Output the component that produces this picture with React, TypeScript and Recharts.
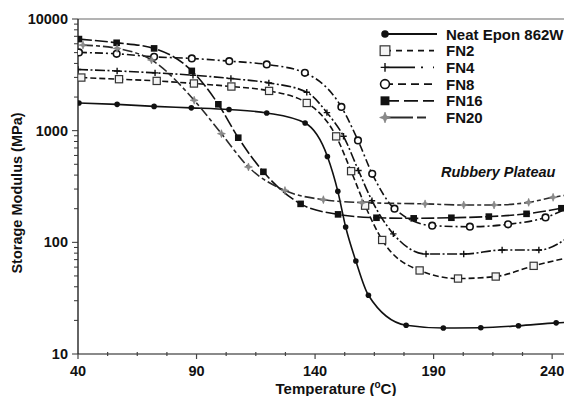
import React from "react";
import { LineChart, Line, XAxis, YAxis, Legend, ReferenceLine } from "recharts";

// Temperature (°C) and storage modulus (MPa) per sample
const neatTemp = [40.4, 56.5, 72.1, 87.8, 103.7, 119.6, 135.8, 145.2, 149.6, 152.9, 157.2, 162.5, 178.4, 194.1, 209.9, 225.8, 241.7, 257.6];
const neatModulus = [1770, 1720, 1650, 1600, 1545, 1440, 1170, 587, 286, 137, 68, 33.6, 18.1, 17.1, 17.2, 17.9, 19.0, 19.6];

const fn2Temp = [41.4, 57.3, 73.2, 88.9, 104.7, 120.6, 136.5, 148.9, 155.2, 161.1, 168.3, 184.1, 200.3, 216.2, 232.2, 248];
const fn2Modulus = [2990, 2890, 2790, 2645, 2485, 2270, 1770, 889, 434, 213, 105, 56, 47.4, 49.4, 61.6, 74];

const fn4Temp = [40, 56.5, 72.5, 88.5, 104.5, 120.5, 136.5, 145, 152, 158.3, 164, 173, 186.8, 202.7, 218.9, 234.4, 250];
const fn4Modulus = [3530, 3425, 3295, 3140, 2930, 2680, 2210, 1450, 890, 440, 236, 119, 78.5, 78.5, 85.3, 85.3, 125];

const fn8Temp = [40.4, 56.3, 72.1, 88, 103.8, 119.6, 135.7, 151.1, 158.1, 164.1, 173.5, 189.4, 205.3, 221.4, 237.2, 253];
const fn8Modulus = [5020, 4880, 4585, 4435, 4195, 3920, 3295, 1630, 818, 411, 200, 141, 138, 145, 167, 240];

const fn16Temp = [40.4, 56.3, 72.1, 88, 99.2, 107.6, 118.2, 133.9, 149.7, 165.9, 181.6, 197.5, 213.3, 229.2, 243.9];
const fn16Modulus = [6610, 6125, 5455, 3430, 1722, 865, 428, 221, 178, 166, 164, 166, 170, 180, 202];

const fn20Temp = [42.1, 56.5, 71, 89, 100.5, 111.9, 127.3, 143.5, 159.8, 186.4, 202.7, 215.5, 230.1, 240.4, 252];
const fn20Modulus = [5840, 5455, 4300, 1872, 940, 473, 291, 241, 227, 221, 216, 216, 228, 253, 275];

const xTicks = [40, 52.5, 65, 77.5, 90, 102.5, 115, 127.5, 140, 152.5, 165, 177.5, 190, 202.5, 215, 227.5, 240];
const xLabels = [40, 90, 140, 190, 240];
const yTicks = [10, 20, 30, 40, 50, 60, 70, 80, 90, 100, 200, 300, 400, 500, 600, 700, 800, 900, 1000, 2000, 3000, 4000, 5000, 6000, 7000, 8000, 9000, 10000];
const yLabels = [10, 100, 1000, 10000];

const FONT = "'Liberation Sans', Arial, Helvetica, sans-serif";
const INK = "#111";

const zip = (t: number[], v: number[]) => t.map((x, i) => ({ t: x, v: v[i] }));

type Shape = "dot" | "openSquare" | "plus" | "openCircle" | "square" | "star";

const series: { name: string; data: { t: number; v: number }[]; shape: Shape; dash?: string; legendDash?: string; stroke: string }[] = [
  { name: "Neat Epon 862W", data: zip(neatTemp, neatModulus), shape: "dot", stroke: INK },
  { name: "FN2", data: zip(fn2Temp, fn2Modulus), shape: "openSquare", dash: "6 3", legendDash: "6 5", stroke: INK },
  { name: "FN4", data: zip(fn4Temp, fn4Modulus), shape: "plus", dash: "10 2.5 2 2.5", legendDash: "30 6 2 10", stroke: INK },
  { name: "FN8", data: zip(fn8Temp, fn8Modulus), shape: "openCircle", dash: "8 3 2 3", legendDash: "8 5", stroke: INK },
  { name: "FN16", data: zip(fn16Temp, fn16Modulus), shape: "square", dash: "13 3", legendDash: "14 5", stroke: INK },
  { name: "FN20", data: zip(fn20Temp, fn20Modulus), shape: "star", dash: "10 3 4 3", legendDash: "28 4 9 10", stroke: "#2a2a2a" },
];

function Marker({ shape, cx, cy, s = 1 }: { shape: Shape; cx: number; cy: number; s?: number }) {
  if (cx == null || cy == null || isNaN(cx) || isNaN(cy)) return null;
  switch (shape) {
    case "dot":
      return <circle cx={cx} cy={cy} r={2.8 * s} fill={INK} />;
    case "openSquare": {
      const h = 3.6 * s;
      return <rect x={cx - h} y={cy - h} width={2 * h} height={2 * h} fill="#f4f4f4" stroke="#333" strokeWidth={1.2} />;
    }
    case "plus": {
      const h = 3.2 * s;
      return (
        <path d={`M${cx - h},${cy}H${cx + h}M${cx},${cy - h}V${cy + h}`} stroke={INK} strokeWidth={1.4} />
      );
    }
    case "openCircle":
      return <circle cx={cx} cy={cy} r={3.3 * s} fill="#fff" stroke={INK} strokeWidth={1.6} />;
    case "square": {
      const h = 3.3 * s;
      return <rect x={cx - h} y={cy - h} width={2 * h} height={2 * h} fill={INK} />;
    }
    case "star": {
      const a = 4 * s;
      const b = 1.1 * s;
      return (
        <path
          d={`M${cx},${cy - a}L${cx + b},${cy - b}L${cx + a},${cy}L${cx + b},${cy + b}L${cx},${cy + a}L${cx - b},${cy + b}L${cx - a},${cy}L${cx - b},${cy - b}Z`}
          fill="#8a8a8a"
          stroke="#777"
          strokeWidth={0.6}
        />
      );
    }
  }
  return null;
}

function XTick(props: any) {
  const { x, y, payload } = props;
  const major = xLabels.includes(payload.value);
  return (
    <g>
      <line x1={x} x2={x} y1={major ? y : y - 2} y2={major ? y + 5 : y + 2} stroke="#444" strokeWidth={1.2} />
      {major && (
        <text x={x} y={y + 22} textAnchor="middle" fontFamily={FONT} fontWeight="bold" fontSize={14.5} fill={INK}>
          {payload.value}
        </text>
      )}
    </g>
  );
}

function YTick(props: any) {
  const { x, y, payload } = props;
  const major = yLabels.includes(payload.value);
  return (
    <g>
      <line x1={x - (major ? 6 : 4)} x2={x} y1={y} y2={y} stroke="#333" strokeWidth={1} />
      {major && (
        <text x={x - 10} y={y + 5} textAnchor="end" fontFamily={FONT} fontWeight="bold" fontSize={14.5} fill={INK}>
          {payload.value}
        </text>
      )}
    </g>
  );
}

function LegendBox() {
  const rowY = (i: number) => 10 + i * 16.7;
  return (
    <svg width={186} height={112} style={{ overflow: "visible" }}>
      {series.map((s, i) => (
        <g key={s.name}>
          <line x1={7} x2={s.shape === "dot" ? 59 : 56} y1={rowY(i)} y2={rowY(i)} stroke={s.stroke} strokeWidth={1.8} strokeDasharray={s.legendDash} />
          <Marker shape={s.shape} cx={7} cy={rowY(i)} s={1.35} />
          <text x={68} y={rowY(i) + 5.5} fontFamily={FONT} fontWeight="bold" fontSize={15} fill={INK}>
            {s.name}
          </text>
        </g>
      ))}
    </svg>
  );
}

export default function App() {
  return (
    <div style={{ position: "absolute", left: 0, top: 0, width: 564, height: 396, background: "#fff", overflow: "hidden" }}>
      <LineChart width={564} height={396} margin={{ top: 19, right: 0, bottom: 0, left: 0 }}>
        <XAxis
          type="number"
          dataKey="t"
          domain={[40, 245]}
          ticks={xTicks}
          interval={0}
          allowDataOverflow
          height={42}
          tickLine={false}
          tickSize={0}
          tickMargin={0}
          axisLine={{ stroke: "#8a8a8a", strokeWidth: 2 }}
          tick={<XTick />}
          label={(p: any) => {
            const vb = p.viewBox;
            return (
              <text x={vb.x + 258} y={vb.y + 40} textAnchor="middle" fontFamily={FONT} fontWeight="bold" fontSize={15} fill={INK}>
                Temperature (<tspan fontSize={10} dy={-6}>o</tspan>
                <tspan dy={6}>C)</tspan>
              </text>
            );
          }}
        />
        <YAxis
          type="number"
          scale="log"
          domain={[10, 10000]}
          ticks={yTicks}
          interval={0}
          allowDataOverflow
          width={78}
          tickLine={false}
          tickSize={0}
          tickMargin={0}
          axisLine={{ stroke: "#111", strokeWidth: 1.3 }}
          tick={<YTick />}
          label={(p: any) => (
            <text
              x={18}
              y={193}
              transform="rotate(-90 18 193)"
              textAnchor="middle"
              dominantBaseline="middle"
              fontFamily={FONT}
              fontWeight="bold"
              fontSize={14.5}
              fill={INK}
            >
              Storage Modulus (MPa)
            </text>
          )}
        />
        <ReferenceLine y={10000} stroke="#9a9a9a" strokeWidth={1.5} />
        <Legend
          layout="horizontal"
          verticalAlign="middle"
          align="center"
          content={() => <LegendBox />}
          wrapperStyle={{ left: 378, top: 24, width: 186, height: 112 }}
        />
        {series.map((s) => (
          <Line
            key={s.name}
            name={s.name}
            data={s.data}
            dataKey="v"
            type="monotone"
            stroke={s.stroke}
            strokeWidth={1.6}
            strokeDasharray={s.dash}
            isAnimationActive={false}
            activeDot={false}
            dot={(p: any) => <Marker key={`${s.name}-${p.index}`} shape={s.shape} cx={p.cx} cy={p.cy} />}
          />
        ))}
      </LineChart>
      <div
        style={{
          position: "absolute",
          left: 441,
          top: 164,
          fontFamily: FONT,
          fontWeight: "bold",
          fontStyle: "italic",
          fontSize: 14.5,
          color: INK,
          whiteSpace: "nowrap",
        }}
      >
        Rubbery Plateau
      </div>
    </div>
  );
}
